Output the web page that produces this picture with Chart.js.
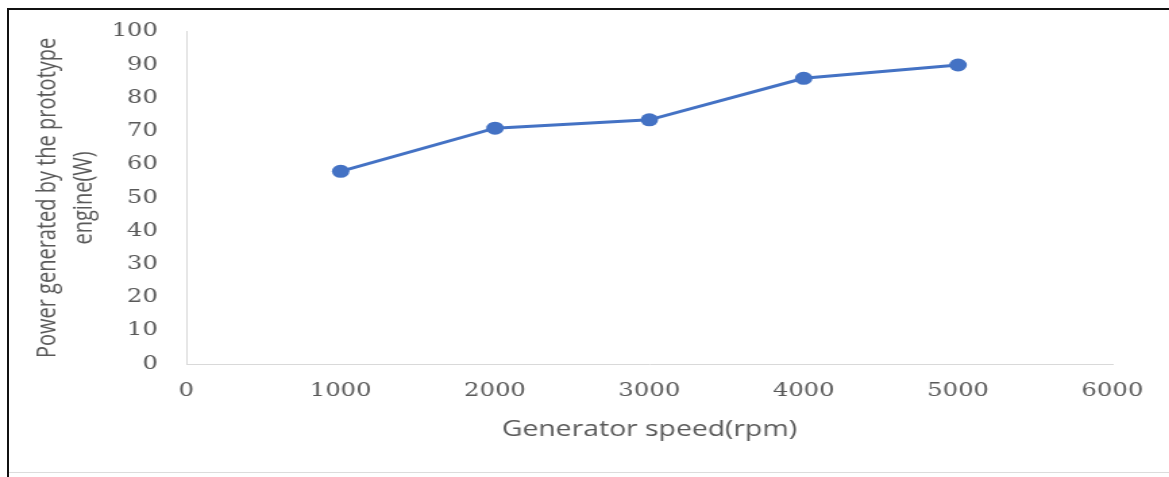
<!DOCTYPE html>
<html>
<head>
<meta charset="utf-8">
<script src="https://cdn.jsdelivr.net/npm/chart.js@4"></script>
<style>
  body { margin: 0; background: #fff; width: 1169px; height: 477px; overflow: hidden; position: relative; }
  #moldura { position: absolute; left: 7px; top: 8px; right: 0; bottom: 0; border-top: 2px solid #111; border-left: 2px solid #111; }
  #linhaBaixo { position: absolute; left: 9px; right: 0; top: 472px; height: 1px; background: #dcdcdc; }
  /* the original picture is stretched sideways, so the chart is too */
  #caixa { position: absolute; left: 0; top: 0; width: 866px; height: 477px; transform: scaleX(1.35); transform-origin: 0 0; }
</style>
</head>
<body>
<div id="moldura"></div>
<div id="linhaBaixo"></div>
<div id="caixa"><canvas id="graficoPotencia"></canvas></div>
<script>
const velocidades = [1000, 2000, 3000, 4000, 5000]
const potencias = [58, 71, 73.5, 86, 90]
const tituloX = 'Generator speed(rpm)'
const tituloY = ['Power generated by the prototype', 'engine(W)']

const cinza = '#595959'
const azul = '#4472c4'

const pontos = velocidades.map((v, i) => ({ x: v, y: potencias[i] }))

const graficoPotencia = new Chart(document.getElementById('graficoPotencia'), {
  type: 'line',
  data: {
    datasets: [{
      data: pontos,
      borderColor: azul,
      backgroundColor: azul,
      borderWidth: 3,
      pointRadius: 6.5,
      pointBorderWidth: 0,
      tension: 0
    }]
  },
  options: {
    responsive: true,
    maintainAspectRatio: false,
    animation: false,
    layout: { padding: { left: 22, top: 31, right: 42, bottom: 34 } },
    plugins: { legend: { display: false }, tooltip: { enabled: false } },
    scales: {
      x: {
        type: 'linear',
        min: 0,
        max: 6000,
        grid: { display: false, drawTicks: false },
        border: { display: true, color: '#d9d9d9', width: 1 },
        ticks: {
          stepSize: 1000, padding: 17, color: cinza, maxRotation: 0,
          font: { family: 'DejaVu Serif', size: 18 },
          callback: valor => String(valor)
        },
        title: { display: true, text: tituloX, color: cinza, padding: { top: 16, bottom: 0 }, font: { family: 'Open Sans', size: 21 } },
        afterFit: escala => { escala.height = 79 }
      },
      y: {
        min: 0,
        max: 100,
        grid: { display: false, drawTicks: false },
        border: { display: true, color: '#d9d9d9', width: 1 },
        ticks: { stepSize: 10, padding: 21, color: cinza, font: { family: 'DejaVu Serif', size: 18 } },
        title: { display: true, text: tituloY, color: cinza, padding: 0, font: { family: 'Open Sans', size: 20, lineHeight: 1.35 } },
        afterFit: escala => { escala.width = 116 }
      }
    }
  }
})
</script>
</body>
</html>
